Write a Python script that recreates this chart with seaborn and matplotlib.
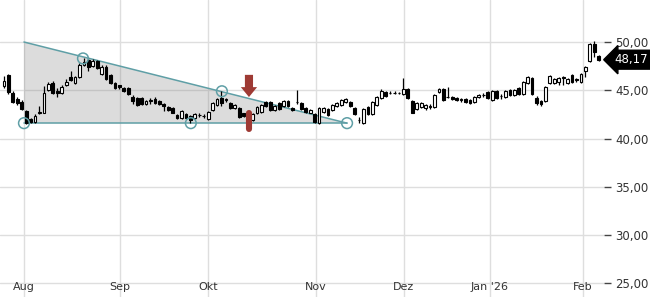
import matplotlib
matplotlib.use("Agg")
import matplotlib.pyplot as plt
import seaborn as sns
import numpy as np
import pandas as pd

# ---- data ----
opens = [45.4, 46.6, 44.7, 44.1, 43.8, 42.9, 42.0, 41.7, 42.6, 42.7,
         45.0, 45.8, 44.9, 44.7, 45.5, 46.4, 45.8, 46.4, 47.6, 48.1,
         47.5, 48.0, 46.7, 47.4, 46.6, 45.8, 45.5, 45.2, 45.2, 44.3,
         44.2, 44.2, 43.6, 43.9, 44.1, 43.9, 43.6, 43.3, 43.2, 42.4,
         42.1, 42.5, 42.3, 42.1, 42.4, 42.3, 42.0, 43.0, 43.5, 44.2,
         44.0, 43.7, 43.2, 43.2, 42.6, 41.9, 41.9, 42.6, 42.8, 43.8,
         43.8, 43.0, 43.7, 43.4, 43.9, 43.2, 43.75, 43.7, 43.2, 42.7,
         42.5, 41.6, 42.8, 43.1, 43.0, 43.4, 43.5, 43.8, 43.8, 43.2,
         41.9, 41.6, 43.3, 42.5, 43.5, 44.2, 44.8, 44.7, 44.7, 44.7,
         44.6, 45.1, 43.9, 43.1, 43.3, 43.2, 43.3, 43.3, 44.8, 45.1,
         44.3, 44.3, 44.2, 44.0, 44.1, 44.0, 43.8, 44.3, 44.5, 44.8,
         44.0, 44.9, 44.4, 44.3, 45.0, 44.5, 45.2, 44.6, 45.8, 46.3,
         44.2, 43.9, 43.9, 45.8, 45.8, 45.9, 46.3, 45.8, 46.6, 46.1,
         45.9, 47.0, 48.0, 49.8, 48.6]
closes = [46.0, 44.8, 43.8, 43.7, 43.1, 41.6, 41.7, 42.3, 42.8, 44.7,
          45.7, 44.7, 44.7, 45.3, 45.9, 46.1, 46.4, 47.6, 47.9, 47.4,
          48.0, 47.3, 47.4, 46.2, 45.8, 45.2, 45.3, 44.9, 44.6, 43.9,
          43.5, 43.6, 43.9, 44.0, 43.7, 43.6, 43.4, 43.0, 42.7, 42.1,
          42.9, 42.1, 41.9, 42.5, 42.45, 42.35, 42.8, 43.7, 44.1, 43.7,
          44.05, 43.2, 43.5, 42.2, 42.3, 41.6, 42.5, 43.3, 43.5, 43.4,
          43.0, 43.4, 43.1, 43.9, 43.4, 43.0, 43.8, 43.1, 42.8, 43.0,
          41.7, 43.2, 43.2, 42.4, 43.5, 43.7, 44.0, 44.1, 43.4, 42.5,
          41.95, 43.1, 42.5, 43.8, 44.3, 44.9, 44.4, 44.75, 44.75, 44.75,
          45.1, 44.2, 42.7, 43.7, 43.7, 43.5, 43.35, 44.5, 45.1, 44.0,
          44.35, 44.1, 44.0, 44.05, 43.8, 43.7, 44.3, 44.5, 44.55, 44.2,
          44.9, 44.2, 44.45, 44.9, 44.5, 45.0, 44.6, 45.9, 46.4, 44.6,
          43.7, 43.6, 45.3, 46.5, 46.2, 46.3, 46.35, 46.2, 45.9, 46.15,
          46.7, 47.4, 49.8, 49.0, 48.17]
highs = [46.5, 46.7, 44.9, 44.3, 44.0, 43.0, 42.1, 42.5, 43.4, 45.4,
         45.9, 46.0, 45.2, 45.5, 46.2, 47.0, 46.5, 47.8, 48.3, 48.3,
         48.2, 48.1, 47.6, 47.6, 46.7, 45.9, 45.6, 45.3, 45.3, 44.5,
         44.3, 44.3, 44.0, 44.2, 44.3, 44.0, 43.7, 43.4, 43.3, 42.5,
         43.0, 42.6, 42.4, 42.6, 42.6, 42.5, 42.9, 43.8, 44.2, 44.9,
         44.2, 43.8, 43.6, 43.3, 42.7, 42.0, 42.6, 43.4, 43.6, 43.9,
         43.9, 43.5, 43.8, 44.0, 44.0, 43.3, 45.0, 43.8, 43.3, 43.1,
         42.6, 43.3, 43.3, 43.2, 43.6, 43.8, 44.1, 44.2, 43.9, 43.3,
         42.2, 43.2, 43.4, 43.9, 44.4, 45.1, 44.9, 44.9, 44.9, 44.8,
         46.3, 45.2, 44.0, 43.8, 43.8, 43.6, 43.6, 44.6, 45.2, 45.2,
         45.3, 44.4, 44.3, 44.2, 44.2, 44.1, 44.4, 44.6, 44.7, 44.9,
         45.0, 45.0, 44.6, 45.0, 45.1, 45.1, 45.3, 46.0, 46.5, 46.4,
         44.4, 44.0, 45.4, 46.6, 46.3, 46.4, 46.5, 46.3, 46.7, 46.3,
         46.8, 47.5, 49.9, 50.1, 48.7]
lows = [45.2, 44.6, 43.7, 43.5, 43.0, 41.5, 41.6, 41.6, 42.5, 42.6,
        44.9, 44.6, 44.3, 44.6, 45.4, 46.0, 45.7, 46.3, 47.5, 47.0,
        47.4, 47.2, 46.6, 46.1, 45.7, 45.1, 45.1, 44.8, 44.5, 43.6,
        43.4, 43.5, 43.5, 43.6, 43.6, 43.5, 42.9, 42.9, 42.6, 42.0,
        42.0, 42.0, 41.6, 42.0, 42.2, 42.1, 41.9, 42.9, 43.4, 43.4,
        43.8, 43.1, 43.1, 42.1, 42.2, 41.5, 41.8, 42.5, 42.7, 43.3,
        42.9, 42.9, 43.0, 43.3, 43.3, 42.9, 43.6, 43.0, 42.7, 42.6,
        41.6, 41.5, 42.7, 42.3, 42.9, 43.3, 43.4, 43.7, 43.3, 42.4,
        41.6, 41.5, 42.4, 42.4, 43.4, 44.1, 44.3, 44.6, 44.6, 44.6,
        44.5, 44.1, 42.6, 43.0, 43.2, 43.0, 43.1, 43.2, 44.7, 43.9,
        44.2, 44.0, 43.9, 43.8, 43.7, 43.6, 43.7, 44.2, 44.3, 44.1,
        43.9, 44.1, 44.1, 44.2, 44.4, 44.4, 44.5, 44.5, 45.7, 44.5,
        43.5, 43.4, 43.8, 45.7, 45.7, 45.6, 45.5, 45.7, 45.8, 45.9,
        45.8, 46.4, 47.9, 48.5, 48.0]

month_labels = ["Aug", "Sep", "Okt", "Nov", "Dez", "Jan '26", "Feb"]
month_index = [4.5, 26.1, 45.9, 70.2, 90.1, 109.5, 130.4]

# descending-triangle pattern
tri_x = [4.5, 77.3, 4.5]
tri_y = [50.0, 41.6, 41.6]
pivot_x = [4.5, 17.8, 42.1, 49.1, 77.3]
pivot_y = [41.6, 48.3, 41.6, 44.9, 41.6]
signal_index = 55.2
last_price = 48.17
y_ticks = [25, 30, 35, 40, 45, 50]

# ---- drawing ----
sns.set_theme(style="white")
plt.rcParams['font.family'] = ['DejaVu Sans']

fig = plt.figure(figsize=(6.5, 3.0), dpi=100)
ax = fig.add_axes([0.0, 0.01, 604 / 650, 0.99])

df = pd.DataFrame({"o": opens, "h": highs, "l": lows, "c": closes})
df["x"] = np.arange(len(df))
df["up"] = df["c"] >= df["o"]
df["bot"] = df[["o", "c"]].min(axis=1)
df["hgt"] = (df["c"] - df["o"]).abs()

grid_c = "#dedede"
for yv in y_ticks + [55]:
    ax.axhline(yv, color=grid_c, lw=1, zorder=0)
for xv in month_index:
    ax.axvline(xv, color=grid_c, lw=1, zorder=0)

# triangle fill and edges
ax.fill(tri_x, tri_y, color=(0.5, 0.5, 0.5), alpha=0.27, lw=0, zorder=1)
teal = "#5f9fa6"
line_df = pd.DataFrame({"x": [tri_x[0], tri_x[1], tri_x[2], tri_x[1]],
                        "y": [tri_y[0], tri_y[1], tri_y[2], tri_y[1]],
                        "seg": ["u", "u", "l", "l"]})
sns.lineplot(data=line_df, x="x", y="y", units="seg", estimator=None,
             color=teal, lw=1.1, ax=ax, zorder=2, sort=False)

# candles
ax.vlines(df["x"], df["l"], df["h"], color="black", lw=0.9, zorder=3)
ax.bar(df["x"], df["hgt"].clip(lower=0.04), bottom=df["bot"], width=0.62,
       color=np.where(df["up"], "white", "black"), edgecolor="black",
       lw=0.8, zorder=4)

# pivot circles
sns.scatterplot(x=pivot_x, y=pivot_y, ax=ax, s=60, facecolor="none",
                edgecolor=teal, linewidth=1.1, zorder=5)

# signal arrow and bar
red = "#9e3a34"
ax.annotate("", xy=(signal_index, 44.3), xytext=(signal_index, 46.6),
            arrowprops=dict(arrowstyle="simple,head_length=0.55,head_width=0.9,tail_width=0.45",
                            mutation_scale=13, color=red, lw=0,
                            shrinkA=0, shrinkB=0), zorder=6)
ax.plot([signal_index, signal_index], [41.0, 42.7], color=red, lw=4.4,
        solid_capstyle="round", zorder=6)

ax.set_xlim(-0.9, 135.2)
ax.set_ylim(23.6, 54.35)

ax.yaxis.tick_right()
ax.set_yticks(y_ticks)
ax.set_yticklabels([f"{v:.2f}".replace(".", ",") for v in y_ticks],
                   fontsize=8.5, color="#333333")
ax.tick_params(axis="y", direction="out", length=5, width=1, color="#444444", pad=3)

ax.set_xticks(month_index)
ax.set_xticklabels(month_labels, fontsize=8, color="#333333")
ax.tick_params(axis="x", direction="in", length=3, width=1, color="#444444", pad=-11)

for s in ax.spines.values():
    s.set_visible(False)
ax.set_xlabel("")
ax.set_ylabel("")

# last-price tag
ax.text(1.0 + 10 / 604, last_price, f"{last_price:.2f}".replace(".", ","),
        transform=ax.get_yaxis_transform(), fontsize=8.5, color="white",
        ha="left", va="center", clip_on=False, zorder=10,
        bbox=dict(boxstyle="larrow,pad=0.25", fc="black", ec="black"))

fig.savefig("out.png", dpi=100)
